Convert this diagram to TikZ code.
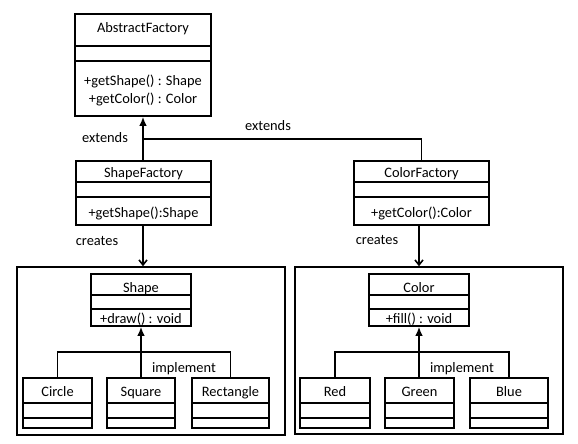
\documentclass[tikz,border=0pt]{standalone}
\usepackage{fontspec}
\setmainfont{Carlito}
\usetikzlibrary{arrows.meta,fit}
\begin{document}
\begin{tikzpicture}[x=1pt,y=-1pt,
  lw/.style={line width=1.6pt},
  box/.style={draw,lw,inner sep=0pt,fit={#1}},
  txt/.style={font=\fontsize{14.4}{16}\selectfont,inner sep=0pt,anchor=base},
  ext/.style={lw,-{Latex[length=9pt,width=7.5pt]}},
  cre/.style={lw,-{Straight Barb[length=5pt,width=8pt]}},
  plain/.style={lw}]
\useasboundingbox (0,0) rectangle (578,444);
\fill[white] (0,0) rectangle (578,444);
% AbstractFactory
\node[box={(75,14)(211,116)}] (abs) {};
\draw[plain] (75,46) -- (211,46) (75,61) -- (211,61);
\node[txt] (absT) at (143,33) {AbstractFactory};
\node[txt] (absM1) at (143,85) {+getShape() : Shape};
\node[txt] (absM2) at (143,103) {+getColor() : Color};
% ShapeFactory
\node[box={(76,161)(211,225)}] (sf) {};
\draw[plain] (76,182) -- (211,182) (76,197) -- (211,197);
\node[txt] (sfT) at (143.5,177) {ShapeFactory};
\node[txt] (sfM) at (143.5,217) {+getShape():Shape};
% ColorFactory
\node[box={(354,161)(489,225)}] (cf) {};
\draw[plain] (354,182) -- (489,182) (354,197) -- (489,197);
\node[txt] (cfT) at (421.5,177) {ColorFactory};
\node[txt] (cfM) at (421.5,217) {+getColor():Color};
% big containers
\node[box={(17,267)(285,435)}] (lbig) {};
\node[box={(295,267)(563,434)}] (rbig) {};
% Shape
\node[box={(91,274)(191,326)}] (shape) {};
\draw[plain] (91,295) -- (191,295) (91,309) -- (191,309);
\node[txt] (shapeT) at (141,292) {Shape};
\node[txt] (shapeM) at (141,323) {+draw() : void};
% Color
\node[box={(369,274)(469,326)}] (color) {};
\draw[plain] (369,295) -- (469,295) (369,309) -- (469,309);
\node[txt] (colorT) at (419,292) {Color};
\node[txt] (colorM) at (419,323) {+fill() : void};
% children
\node[box={(23,378)(92,428)}] (circ) {};
\draw[plain] (23,403) -- (92,403) (23,418) -- (92,418);
\node[txt] (circT) at (57.5,396) {Circle};
\node[box={(107,378)(175,428)}] (sq) {};
\draw[plain] (107,403) -- (175,403) (107,418) -- (175,418);
\node[txt] (sqT) at (141,396) {Square};
\node[box={(192,378)(269,428)}] (rect) {};
\draw[plain] (192,403) -- (269,403) (192,418) -- (269,418);
\node[txt] (rectT) at (230.5,396) {Rectangle};
\node[box={(300,378)(370,428)}] (red) {};
\draw[plain] (300,403) -- (370,403) (300,418) -- (370,418);
\node[txt] (redT) at (335,396) {Red};
\node[box={(385,378)(454,428)}] (green) {};
\draw[plain] (385,403) -- (454,403) (385,418) -- (454,418);
\node[txt] (greenT) at (419.5,396) {Green};
\node[box={(470,378)(548,428)}] (blue) {};
\draw[plain] (470,403) -- (548,403) (470,418) -- (548,418);
\node[txt] (blueT) at (509,396) {Blue};
% connectors
\coordinate (j1) at (143,139);
\draw[ext] (sf.north -| j1) -- (j1 |- abs.south);
\draw[plain] (cf.north) |- (j1);
\draw[cre] (sf.south -| 143,0) -- (lbig.north -| 143,0);
\draw[cre] (cf.south -| 419,0) -- (rbig.north -| 419,0);
\coordinate (jl) at (141,352);
\coordinate (jr) at (419,352);
\draw[ext] (sq.north -| jl) -- (shape.south -| jl);
\draw[plain] (circ.north) |- (jl) -| (rect.north);
\draw[ext] (green.north -| jr) -- (color.south -| jr);
\draw[plain] (red.north) |- (jr) -| (blue.north);
% labels
\node[txt] (l1) at (105,142) {extends};
\node[txt] (l2) at (268,130) {extends};
\node[txt] (l3) at (97,245) {creates};
\node[txt] (l4) at (377,244) {creates};
\node[txt] (l5) at (184,372) {implement};
\node[txt] (l6) at (462,372) {implement};
\end{tikzpicture}
\end{document}
